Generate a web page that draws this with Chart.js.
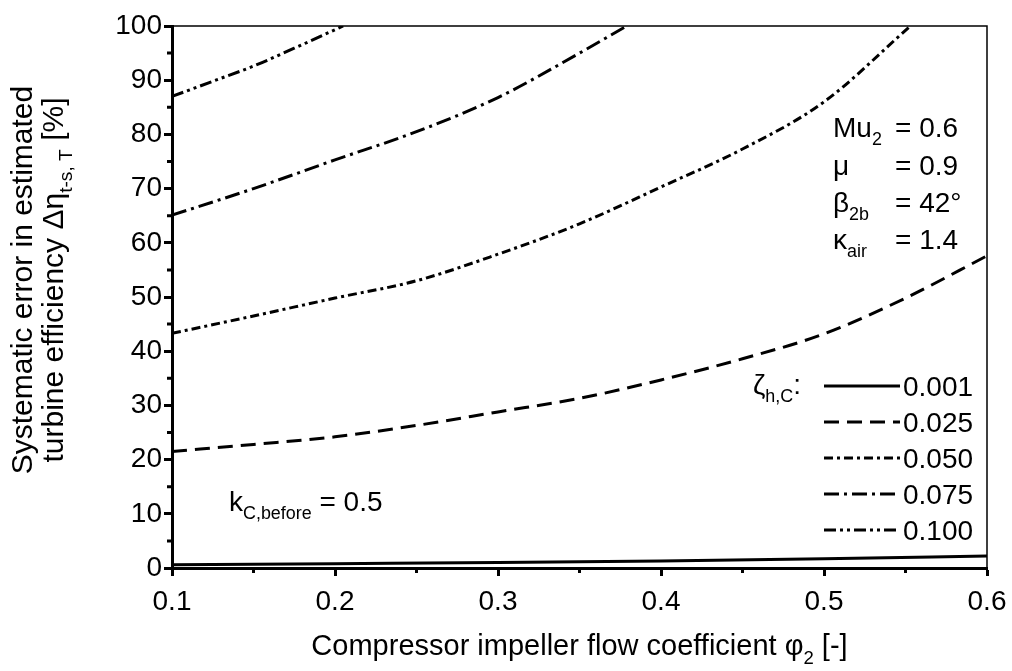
<!DOCTYPE html>
<html>
<head>
<meta charset="utf-8">
<script src="https://cdn.jsdelivr.net/npm/chart.js@4.4.0/dist/chart.umd.min.js"></script>
<style>
html,body{margin:0;padding:0;background:#fff;}
#wrap{width:1012px;height:671px;}
</style>
</head>
<body>
<div id="wrap"><canvas id="c" width="1012" height="671"></canvas></div>
<script>
// ---- data ----
const phi001 = [0.1, 0.2, 0.3, 0.4, 0.5, 0.6];
const err001 = [0.6, 0.8, 1.0, 1.3, 1.7, 2.2];
const phi025 = [0.1, 0.15, 0.2, 0.25, 0.3, 0.35, 0.4, 0.45, 0.5, 0.55, 0.6];
const err025 = [21.5, 22.8, 24.2, 26.3, 28.8, 31.3, 34.7, 38.6, 43.2, 49.8, 57.6];
const phi050 = [0.1, 0.15, 0.2, 0.25, 0.3, 0.35, 0.4, 0.45, 0.5, 0.553];
const err050 = [43.3, 46.5, 49.8, 53.0, 57.9, 63.5, 70.3, 77.3, 86.0, 100];
const phi075 = [0.1, 0.15, 0.2, 0.25, 0.3, 0.35, 0.379];
const err075 = [65.1, 70.0, 75.3, 80.5, 86.8, 95.0, 100];
const phi100 = [0.1, 0.125, 0.15, 0.175, 0.205];
const err100 = [87.0, 89.8, 92.6, 95.9, 100];
const seriesLabels = ['0.001', '0.025', '0.050', '0.075', '0.100'];
const xTicks = [0.1, 0.2, 0.3, 0.4, 0.5, 0.6];
const yTicks = [0, 10, 20, 30, 40, 50, 60, 70, 80, 90, 100];

const FONT = '"Liberation Sans", Arial, sans-serif';
const FS = 28;
const dashes = [[], [15, 8], [9, 4, 3, 4], [15, 5, 3, 5], [12, 4, 3, 4, 3, 4]];
const pairs = (xs, ys) => xs.map((x, i) => ({x: x, y: ys[i]}));
const allX = [phi001, phi025, phi050, phi075, phi100];
const allY = [err001, err025, err050, err075, err100];

const datasets = allX.map((xs, i) => ({
  label: seriesLabels[i],
  data: pairs(xs, allY[i]),
  borderColor: '#000',
  borderWidth: 3,
  borderDash: dashes[i],
  pointRadius: 0,
  fill: false,
  cubicInterpolationMode: 'monotone'
}));

function rich(ctx, parts, x, y, fs) {
  let cx = x;
  parts.forEach(p => {
    const f = p.sub ? fs * 0.64 : fs;
    ctx.font = f + 'px ' + FONT;
    ctx.fillText(p.t, cx, y + (p.sub ? fs * 0.3 : 0));
    cx += ctx.measureText(p.t).width;
  });
  return cx - x;
}
function richWidth(ctx, parts, fs) {
  let w = 0;
  parts.forEach(p => {
    ctx.font = (p.sub ? fs * 0.64 : fs) + 'px ' + FONT;
    w += ctx.measureText(p.t).width;
  });
  return w;
}

const decor = {
  id: 'decor',
  afterDraw(chart) {
    const ctx = chart.ctx;
    const a = chart.chartArea;
    const xs = chart.scales.x, ys = chart.scales.y;
    ctx.save();
    ctx.fillStyle = '#000';
    ctx.strokeStyle = '#000';
    // frame top/right
    ctx.lineWidth = 1.5;
    ctx.beginPath();
    ctx.moveTo(a.left, a.top); ctx.lineTo(a.right, a.top); ctx.lineTo(a.right, a.bottom);
    ctx.stroke();
    // minor ticks
    ctx.lineWidth = 3;
    ctx.beginPath();
    for (let v = 5; v < 100; v += 10) {
      const y = ys.getPixelForValue(v);
      ctx.moveTo(a.left - 5, y); ctx.lineTo(a.left, y);
    }
    for (let v = 0.15; v < 0.6; v += 0.1) {
      const x = xs.getPixelForValue(v);
      ctx.moveTo(x, a.bottom); ctx.lineTo(x, a.bottom + 5);
    }
    ctx.stroke();
    ctx.textBaseline = 'alphabetic';
    ctx.textAlign = 'left';
    // x title
    const xt = [{t: 'Compressor impeller flow coefficient \u03C6'}, {t: '2', sub: true}, {t: ' [-]'}];
    const xw = richWidth(ctx, xt, 29);
    rich(ctx, xt, (a.left + a.right) / 2 - xw / 2, 655, 29);
    // y title
    const y1 = [{t: 'Systematic error in estimated'}];
    const y2 = [{t: 'turbine efficiency \u0394\u03B7'}, {t: 't-s, T', sub: true}, {t: ' [%]'}];
    [[y1, 32], [y2, 63]].forEach(([parts, bx]) => {
      const w = richWidth(ctx, parts, 30);
      ctx.save();
      ctx.translate(bx, 280);
      ctx.rotate(-Math.PI / 2);
      rich(ctx, parts, -w / 2, 0, 30);
      ctx.restore();
    });
    // parameter box
    const rows = [
      [[{t: 'Mu'}, {t: '2', sub: true}], '= 0.6', 137],
      [[{t: '\u03BC'}], '= 0.9', 175],
      [[{t: '\u03B2'}, {t: '2b', sub: true}], '= 42\u00B0', 212],
      [[{t: '\u03BA'}, {t: 'air', sub: true}], '= 1.4', 249]
    ];
    rows.forEach(r => {
      rich(ctx, r[0], 833, r[2], FS);
      ctx.font = FS + 'px ' + FONT;
      ctx.fillText(r[1], 895, r[2]);
    });
    // k annotation
    rich(ctx, [{t: 'k'}, {t: 'C,before', sub: true}, {t: ' = 0.5'}], 229, 511, FS);
    // legend
    rich(ctx, [{t: '\u03B6'}, {t: 'h,C', sub: true}, {t: ':'}], 753, 394, FS);
    const rowY = [386, 422, 458, 494, 530];
    chart.data.datasets.forEach((ds, i) => {
      ctx.lineWidth = 3;
      ctx.setLineDash(ds.borderDash);
      ctx.beginPath();
      ctx.moveTo(824, rowY[i]); ctx.lineTo(900, rowY[i]);
      ctx.stroke();
      ctx.setLineDash([]);
      ctx.font = FS + 'px ' + FONT;
      ctx.fillText(ds.label, 903, rowY[i] + 10);
    });
    ctx.restore();
  }
};

new Chart(document.getElementById('c'), {
  type: 'line',
  data: {datasets: datasets},
  options: {
    responsive: false,
    animation: false,
    layout: {padding: {left: 0, top: 26, right: 25, bottom: 0}},
    plugins: {legend: {display: false}, tooltip: {enabled: false}},
    scales: {
      x: {
        type: 'linear', min: 0.1, max: 0.6,
        afterBuildTicks: s => { s.ticks = xTicks.map(v => ({value: v})); },
        afterFit: s => { s.height = 671 - 568; s.paddingRight = 0; s.paddingLeft = 0; },
        grid: {drawOnChartArea: false, drawTicks: true, tickLength: 8, tickWidth: 3, tickColor: '#000'},
        border: {display: true, width: 3, color: '#000'},
        ticks: {color: '#000', font: {family: FONT, size: FS}, padding: 9, maxRotation: 0,
                callback: v => Number(v).toFixed(1)}
      },
      y: {
        type: 'linear', min: 0, max: 100,
        afterBuildTicks: s => { s.ticks = yTicks.map(v => ({value: v})); },
        afterFit: s => { s.width = 172; s.paddingTop = 0; s.paddingBottom = 0; },
        grid: {drawOnChartArea: false, drawTicks: true, tickLength: 8, tickWidth: 3, tickColor: '#000'},
        border: {display: true, width: 3, color: '#000'},
        ticks: {color: '#000', font: {family: FONT, size: FS}, padding: 2}
      }
    }
  },
  plugins: [decor]
});
</script>
</body>
</html>
